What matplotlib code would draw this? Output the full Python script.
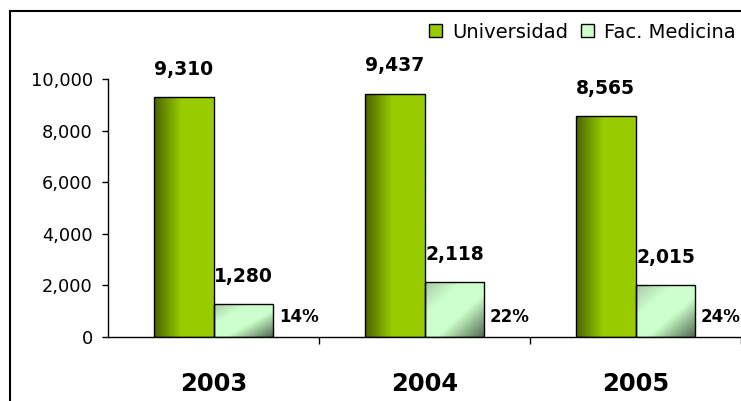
import numpy as np
import matplotlib
matplotlib.use("Agg")
import matplotlib.pyplot as plt
from matplotlib.colors import LinearSegmentedColormap
from matplotlib.patches import Rectangle
from matplotlib.ticker import FuncFormatter, FixedLocator

years = ["2003", "2004", "2005"]
universidad = [9310, 9437, 8565]
medicina = [1280, 2118, 2015]
pct = [14, 22, 24]

GREEN_CM = LinearSegmentedColormap.from_list(
    "green", [(0.0, "#4a6400"), (0.45, "#99cc00"), (1.0, "#99cc00")])
LIGHT_CM = LinearSegmentedColormap.from_list(
    "light", [(0.0, "#a9c9a9"), (0.3, "#ccffcc"), (0.6, "#ccffcc"), (1.0, "#4f684f")])


def fill_gradient(ax, bar, cmap, diagonal=False):
    x0, y0 = bar.get_x(), bar.get_y()
    w, h = bar.get_width(), bar.get_height()
    n = 64
    xx, yy = np.meshgrid(np.linspace(0, 1, n), np.linspace(0, 1, n))
    # image row 0 is the top (origin="upper")
    grad = (xx + yy) / 2 if diagonal else xx
    im = ax.imshow(grad, cmap=cmap, extent=(x0, x0 + w, y0, y0 + h),
                   aspect="auto", origin="upper", zorder=2, interpolation="bilinear")
    im.set_clip_path(bar)
    bar.set_facecolor("none")


fig = plt.figure(figsize=(7.41, 4.01), dpi=100)
ax = fig.add_axes([108 / 741, 1 - 337 / 401, 633 / 741, 258 / 401])

x = np.arange(len(years))
w = 0.284
b1 = ax.bar(x - w / 2, universidad, w, color="#99cc00", edgecolor="black",
            linewidth=1.0, zorder=3, label="Universidad")
b2 = ax.bar(x + w / 2, medicina, w, color="#ccffcc", edgecolor="black",
            linewidth=1.0, zorder=3, label="Fac. Medicina")

leg = ax.legend(handles=[b1, b2], loc="center left", ncol=2,
                bbox_to_anchor=(429 / 741, 1 - 32 / 401), bbox_transform=fig.transFigure,
                frameon=False, fontsize=14, handlelength=0.67, handleheight=0.67,
                handletextpad=0.5, columnspacing=0.67, borderaxespad=0, borderpad=0)
for h in leg.legend_handles:
    h.set_edgecolor("black")

for bar in b1:
    fill_gradient(ax, bar, GREEN_CM)
for bar in b2:
    fill_gradient(ax, bar, LIGHT_CM, diagonal=True)

for bar, v in zip(b1, universidad):
    ax.annotate(f"{v:,}", (bar.get_x() + bar.get_width() / 2, v),
                xytext=(0, 13), textcoords="offset points", ha="center", va="bottom",
                fontsize=13.5, fontweight="bold")
for bar, v, p in zip(b2, medicina, pct):
    ax.annotate(f"{v:,}", (bar.get_x() + bar.get_width() / 2, v),
                xytext=(0, 13), textcoords="offset points", ha="center", va="bottom",
                fontsize=13.5, fontweight="bold")
    ax.annotate(f"{p}%", (bar.get_x() + bar.get_width(), 0),
                xytext=(4, 14.5), textcoords="offset points", ha="left", va="center",
                fontsize=12, fontweight="bold")

ax.set_xlim(-0.5, 2.5)
ax.set_ylim(0, 10000)
ax.set_yticks(np.arange(0, 10001, 2000))
ax.yaxis.set_major_formatter(FuncFormatter(lambda v, _: f"{int(v):,}"))
ax.tick_params(axis="y", direction="out", length=4, width=1, pad=7, labelsize=12.8)

ax.set_xticks(x)
ax.set_xticklabels(years, fontsize=17.5, fontweight="bold")
ax.xaxis.set_minor_locator(FixedLocator([0.5, 1.5, 2.5]))
ax.tick_params(axis="x", which="major", length=0, pad=25)
ax.tick_params(axis="x", which="minor", direction="out", length=5, width=1)

for s in ("top", "right"):
    ax.spines[s].set_visible(False)
for s in ("left", "bottom"):
    ax.spines[s].set_linewidth(1.0)

# chart area border (right/bottom edges fall outside the image)
fig.patches.append(Rectangle((10 / 741, -0.5), 2, 1.5 - 11 / 401, transform=fig.transFigure,
                             fill=False, edgecolor="black", linewidth=1.5))

fig.savefig("out.png", dpi=100, facecolor="white")
